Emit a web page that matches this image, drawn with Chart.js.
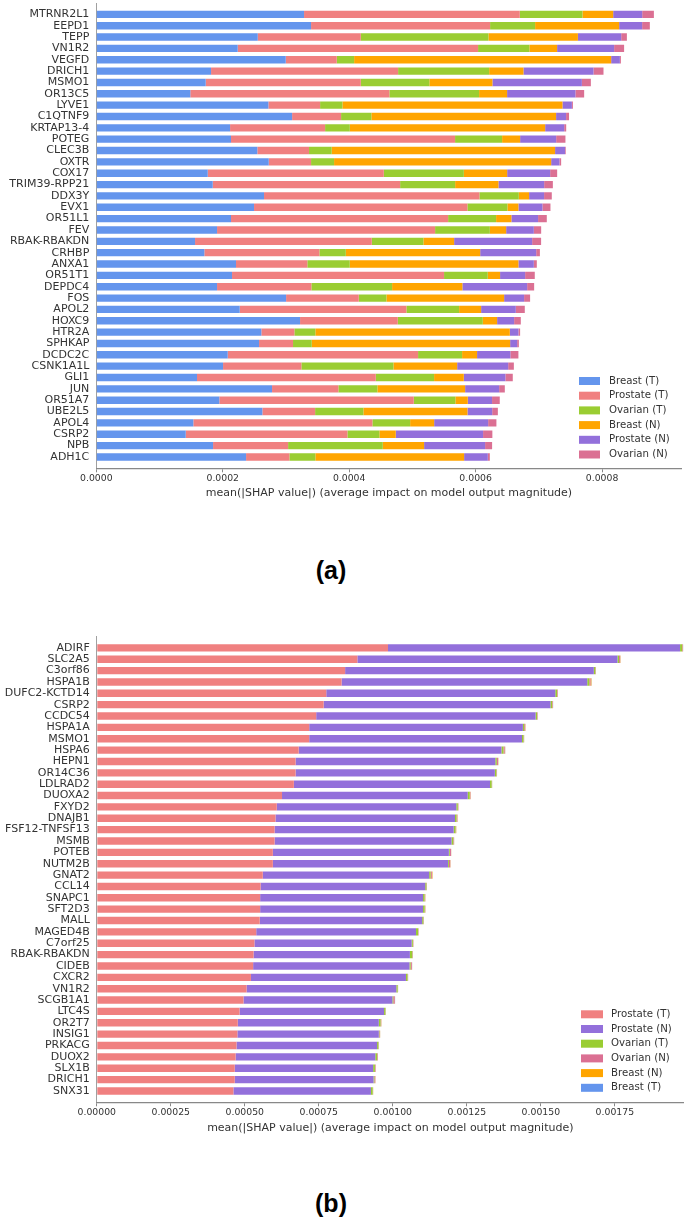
<!DOCTYPE html>
<html>
<head>
<meta charset="utf-8">
<script src="https://cdn.jsdelivr.net/npm/chart.js@4.4.0/dist/chart.umd.min.js"></script>
<style>
  body { margin: 0; background: #fff; width: 685px; height: 1220px; position: relative; overflow: hidden; }
  canvas { position: absolute; left: 0; }
  #chartA { top: 0; }
  #chartB { top: 630px; }
  .tag { position: absolute; left: 0; width: 662px; text-align: center; font: bold 25px 'Liberation Sans', Arial, sans-serif; line-height: 30px; color: #000; }
</style>
</head>
<body>
<canvas id="chartA" width="685" height="510"></canvas>
<div class="tag" style="top:555px">(a)</div>
<canvas id="chartB" width="685" height="520"></canvas>
<div class="tag" style="top:1188px">(b)</div>
<script>
// panel (a)
const genesA = ['MTRNR2L1', 'EEPD1', 'TEPP', 'VN1R2', 'VEGFD', 'DRICH1', 'MSMO1', 'OR13C5', 'LYVE1', 'C1QTNF9',
	'KRTAP13-4', 'POTEG', 'CLEC3B', 'OXTR', 'COX17', 'TRIM39-RPP21', 'DDX3Y', 'EVX1', 'OR51L1', 'FEV',
	'RBAK-RBAKDN', 'CRHBP', 'ANXA1', 'OR51T1', 'DEPDC4', 'FOS', 'APOL2', 'HOXC9', 'HTR2A', 'SPHKAP',
	'DCDC2C', 'CSNK1A1L', 'GLI1', 'JUN', 'OR51A7', 'UBE2L5', 'APOL4', 'CSRP2', 'NPB', 'ADH1C'];
const breastT_A = [0.0003286, 0.0003397, 0.0002554, 0.0002237, 0.0002997, 0.0001815, 0.0001731, 0.0001487, 0.0002722, 0.0003097,
	0.0002116, 0.0002131, 0.0002547, 0.0002728, 0.0001763, 0.0001842, 0.0002653, 0.0002495, 0.0002131, 0.0001910,
	0.0001562, 0.0001709, 0.0002210, 0.0002147, 0.0001910, 0.0003002, 0.0002269, 0.0003223, 0.0002611, 0.0002574,
	0.0002079, 0.0002005, 0.0001593, 0.0002780, 0.0001946, 0.0002627, 0.0001535, 0.0001415, 0.0001847, 0.0002369];
const prostateT_A = [0.0003413, 0.0002832, 0.0001630, 0.0003802, 0.0000807, 0.0002959, 0.0002453, 0.0003149, 0.0000818, 0.0000775,
	0.0001503, 0.0003544, 0.0000818, 0.0000669, 0.0002785, 0.0002964, 0.0003407, 0.0003375, 0.0003434, 0.0003449,
	0.0002796, 0.0001820, 0.0001128, 0.0003354, 0.0001492, 0.0001150, 0.0002636, 0.0001546, 0.0000522, 0.0000538,
	0.0003011, 0.0001239, 0.0002828, 0.0001049, 0.0003076, 0.0000834, 0.0002832, 0.0002557, 0.0001187, 0.0000685];
const ovarianT_A = [0.0000991, 0.0000712, 0.0002019, 0.0000812, 0.0000274, 0.0001440, 0.0001085, 0.0001419, 0.0000353, 0.0000479,
	0.0000391, 0.0000744, 0.0000359, 0.0000364, 0.0001266, 0.0000870, 0.0000623, 0.0000633, 0.0000759, 0.0000866,
	0.0000816, 0.0000418, 0.0000671, 0.0000691, 0.0001277, 0.0000437, 0.0000834, 0.0001345, 0.0000332, 0.0000296,
	0.0000696, 0.0001456, 0.0000922, 0.0000617, 0.0000658, 0.0000764, 0.0000597, 0.0000506, 0.0001498, 0.0000411];
const breastN_A = [0.0000486, 0.0001329, 0.0001415, 0.0000438, 0.0004066, 0.0000543, 0.0000997, 0.0000443, 0.0003481, 0.0002922,
	0.0003090, 0.0000285, 0.0003533, 0.0003434, 0.0000685, 0.0000685, 0.0000163, 0.0000174, 0.0000242, 0.0000258,
	0.0000486, 0.0002125, 0.0002668, 0.0000195, 0.0001112, 0.0001862, 0.0000348, 0.0000226, 0.0003076, 0.0003138,
	0.0000237, 0.0001008, 0.0000470, 0.0001388, 0.0000196, 0.0001646, 0.0000380, 0.0000259, 0.0000653, 0.0002353];
const prostateN_A = [0.0000459, 0.0000364, 0.0000685, 0.0000902, 0.0000138, 0.0001108, 0.0001415, 0.0001081, 0.0000149, 0.0000158,
	0.0000301, 0.0000570, 0.0000158, 0.0000131, 0.0000680, 0.0000723, 0.0000237, 0.0000380, 0.0000422, 0.0000438,
	0.0001234, 0.0000886, 0.0000244, 0.0000396, 0.0001024, 0.0000316, 0.0000549, 0.0000269, 0.0000136, 0.0000111,
	0.0000527, 0.0000807, 0.0000658, 0.0000538, 0.0000384, 0.0000391, 0.0000854, 0.0001381, 0.0000965, 0.0000375];
const ovarianN_A = [0.0000185, 0.0000122, 0.0000090, 0.0000158, 0.0000016, 0.0000158, 0.0000142, 0.0000138, 0.0000016, 0.0000047,
	0.0000032, 0.0000147, 0.0000011, 0.0000027, 0.0000111, 0.0000138, 0.0000122, 0.0000127, 0.0000138, 0.0000116,
	0.0000142, 0.0000059, 0.0000047, 0.0000153, 0.0000111, 0.0000095, 0.0000142, 0.0000106, 0.0000027, 0.0000027,
	0.0000127, 0.0000090, 0.0000117, 0.0000090, 0.0000122, 0.0000090, 0.0000131, 0.0000147, 0.0000111, 0.0000032];
const ticksA = [0.0000, 0.0002, 0.0004, 0.0006, 0.0008];

// panel (b)
const genesB = ['ADIRF', 'SLC2A5', 'C3orf86', 'HSPA1B', 'DUFC2-KCTD14', 'CSRP2', 'CCDC54', 'HSPA1A', 'MSMO1', 'HSPA6',
	'HEPN1', 'OR14C36', 'LDLRAD2', 'DUOXA2', 'FXYD2', 'DNAJB1', 'FSF12-TNFSF13', 'MSMB', 'POTEB', 'NUTM2B',
	'GNAT2', 'CCL14', 'SNAPC1', 'SFT2D3', 'MALL', 'MAGED4B', 'C7orf25', 'RBAK-RBAKDN', 'CIDEB', 'CXCR2',
	'VN1R2', 'SCGB1A1', 'LTC4S', 'OR2T7', 'INSIG1', 'PRKACG', 'DUOX2', 'SLX1B', 'DRICH1', 'SNX31'];
const prostateT_B = [0.0009837, 0.0008802, 0.0008388, 0.0008269, 0.0007751, 0.0007663, 0.0007411, 0.0007175, 0.0007175, 0.0006820,
	0.0006716, 0.0006716, 0.0006657, 0.0006257, 0.0006080, 0.0006036, 0.0006006, 0.0006006, 0.0005947, 0.0005947,
	0.0005607, 0.0005533, 0.0005518, 0.0005518, 0.0005503, 0.0005385, 0.0005325, 0.0005296, 0.0005281, 0.0005207,
	0.0005059, 0.0004956, 0.0004822, 0.0004763, 0.0004749, 0.0004719, 0.0004689, 0.0004660, 0.0004660, 0.0004615];
const prostateN_B = [0.0009867, 0.0008787, 0.0008402, 0.0008299, 0.0007737, 0.0007663, 0.0007411, 0.0007219, 0.0007189, 0.0006849,
	0.0006746, 0.0006731, 0.0006627, 0.0006272, 0.0006065, 0.0006065, 0.0006050, 0.0005976, 0.0005947, 0.0005917,
	0.0005621, 0.0005562, 0.0005503, 0.0005503, 0.0005488, 0.0005399, 0.0005311, 0.0005281, 0.0005281, 0.0005237,
	0.0005059, 0.0005030, 0.0004882, 0.0004763, 0.0004778, 0.0004749, 0.0004719, 0.0004675, 0.0004689, 0.0004645];
const ovarianT_B = [0.0000070, 0.0000055, 0.0000050, 0.0000070, 0.0000060, 0.0000055, 0.0000050, 0.0000045, 0.0000050, 0.0000070,
	0.0000050, 0.0000050, 0.0000055, 0.0000070, 0.0000050, 0.0000050, 0.0000060, 0.0000060, 0.0000030, 0.0000030,
	0.0000050, 0.0000040, 0.0000050, 0.0000055, 0.0000040, 0.0000070, 0.0000040, 0.0000080, 0.0000040, 0.0000050,
	0.0000045, 0.0000030, 0.0000045, 0.0000060, 0.0000020, 0.0000045, 0.0000060, 0.0000060, 0.0000030, 0.0000060];
const ovarianN_B = [0.0000020, 0.0000035, 0.0000015, 0.0000040, 0.0000018, 0.0000020, 0.0000015, 0.0000030, 0.0000015, 0.0000040,
	0.0000040, 0.0000015, 0.0000010, 0.0000020, 0.0000015, 0.0000025, 0.0000018, 0.0000020, 0.0000040, 0.0000045,
	0.0000040, 0.0000012, 0.0000020, 0.0000018, 0.0000012, 0.0000012, 0.0000015, 0.0000015, 0.0000040, 0.0000015,
	0.0000010, 0.0000050, 0.0000010, 0.0000020, 0.0000020, 0.0000010, 0.0000020, 0.0000020, 0.0000030, 0.0000010];
const breastN_B = [0.0000010, 0.0000010, 0.0000006, 0.0000030, 0.0000008, 0.0000010, 0.0000006, 0.0000010, 0.0000006, 0.0000015,
	0.0000010, 0.0000006, 0.0000005, 0.0000010, 0.0000006, 0.0000010, 0.0000008, 0.0000008, 0.0000006, 0.0000008,
	0.0000020, 0.0000005, 0.0000008, 0.0000007, 0.0000005, 0.0000005, 0.0000005, 0.0000005, 0.0000008, 0.0000006,
	0.0000004, 0.0000008, 0.0000004, 0.0000007, 0.0000004, 0.0000004, 0.0000007, 0.0000007, 0.0000005, 0.0000005];
const breastT_B = [0.0000005, 0.0000004, 0.0000003, 0.0000008, 0.0000003, 0.0000004, 0.0000003, 0.0000004, 0.0000003, 0.0000005,
	0.0000004, 0.0000003, 0.0000003, 0.0000004, 0.0000003, 0.0000004, 0.0000003, 0.0000003, 0.0000003, 0.0000003,
	0.0000005, 0.0000002, 0.0000003, 0.0000003, 0.0000002, 0.0000002, 0.0000002, 0.0000002, 0.0000003, 0.0000003,
	0.0000002, 0.0000003, 0.0000002, 0.0000003, 0.0000002, 0.0000002, 0.0000003, 0.0000003, 0.0000002, 0.0000002];
const ticksB = [0.00000, 0.00025, 0.00050, 0.00075, 0.00100, 0.00125, 0.00150, 0.00175];

const colors = {
	breastT: '#6495ED',
	prostateT: '#F08080',
	ovarianT: '#9ACD32',
	breastN: '#FFA500',
	prostateN: '#9370DB',
	ovarianN: '#DB7093'
};

Chart.defaults.font.family = "'DejaVu Sans'";
Chart.defaults.color = '#333333';

// legend drawn inside the plot, bottom right, like matplotlib
const boxLegend = {
	id: 'boxLegend',
	afterDraw(chart, args, o) {
		const ctx = chart.ctx;
		ctx.save();
		ctx.font = o.size + "px 'DejaVu Sans'";
		ctx.textBaseline = 'middle';
		ctx.textAlign = 'left';
		chart.data.datasets.forEach((ds, i) => {
			const y = o.top + i * o.gap;
			ctx.fillStyle = ds.backgroundColor;
			ctx.fillRect(o.x, y - o.boxH / 2, o.boxW, o.boxH);
			ctx.fillStyle = '#333333';
			ctx.fillText(ds.label, o.textX, y);
		});
		ctx.restore();
	}
};

// blank label at each end gives the one-row margin above and below the bars
const pad = arr => [null, ...arr, null];

function makeChart(id, genes, series, ticks, digits, box, legend) {
	const ctx = document.getElementById(id).getContext('2d');
	return new Chart(ctx, {
		type: 'bar',
		plugins: [boxLegend],
		data: {
			labels: ['', ...genes, ''],
			datasets: series.map(s => ({
				label: s.label,
				data: pad(s.data),
				backgroundColor: s.color,
				borderWidth: 0,
				barPercentage: 0.65,
				categoryPercentage: 1
			}))
		},
		options: {
			indexAxis: 'y',
			responsive: false,
			animation: false,
			layout: { padding: { top: box.top, right: 685 - box.right, left: 0, bottom: 0 } },
			plugins: {
				legend: { display: false },
				tooltip: { enabled: false },
				boxLegend: legend
			},
			scales: {
				y: {
					stacked: true,
					offset: false,
					grid: { display: false, drawTicks: false },
					border: { display: true, color: '#a0a0a0', width: 1 },
					ticks: { autoSkip: false, padding: 7, color: '#333333', font: { size: 11 } },
					afterFit: scale => {
						scale.width = box.left;
						scale.paddingTop = 0;
						scale.paddingBottom = 0;
					}
				},
				x: {
					stacked: true,
					min: 0,
					max: box.xmax,
					grid: { display: true, drawOnChartArea: false, drawTicks: true, tickLength: 4, color: '#888888' },
					border: { display: true, color: '#888888', width: 1.3 },
					afterBuildTicks: scale => { scale.ticks = ticks.map(v => ({ value: v })); },
					ticks: {
						padding: 1,
						color: '#333333',
						font: { size: 9.3 },
						maxRotation: 0,
						callback: v => v.toFixed(digits)
					},
					title: {
						display: true,
						text: 'mean(|SHAP value|) (average impact on model output magnitude)',
						color: '#333333',
						font: { size: 11 },
						padding: { top: 0, bottom: box.titlePad }
					},
					afterFit: scale => {
						scale.height = box.height - box.bottom;
						scale.paddingLeft = 0;
						scale.paddingRight = 0;
					}
				}
			}
		}
	});
}

makeChart('chartA', genesA, [
	{ label: 'Breast (T)', data: breastT_A, color: colors.breastT },
	{ label: 'Prostate (T)', data: prostateT_A, color: colors.prostateT },
	{ label: 'Ovarian (T)', data: ovarianT_A, color: colors.ovarianT },
	{ label: 'Breast (N)', data: breastN_A, color: colors.breastN },
	{ label: 'Prostate (N)', data: prostateN_A, color: colors.prostateN },
	{ label: 'Ovarian (N)', data: ovarianN_A, color: colors.ovarianN }
], ticksA, 4,
	{ left: 96.3, right: 681.7, top: 3, bottom: 468.3, height: 510, xmax: 0.000926, titlePad: 10.7 },
	{ x: 579, textX: 609, top: 381, gap: 14.7, boxW: 21, boxH: 8, size: 10.2 });

makeChart('chartB', genesB, [
	{ label: 'Prostate (T)', data: prostateT_B, color: colors.prostateT },
	{ label: 'Prostate (N)', data: prostateN_B, color: colors.prostateN },
	{ label: 'Ovarian (T)', data: ovarianT_B, color: colors.ovarianT },
	{ label: 'Ovarian (N)', data: ovarianN_B, color: colors.ovarianN },
	{ label: 'Breast (N)', data: breastN_B, color: colors.breastN },
	{ label: 'Breast (T)', data: breastT_B, color: colors.breastT }
], ticksB, 5,
	{ left: 96.8, right: 683.8, top: 6.5, bottom: 472.3, height: 520, xmax: 0.001983, titlePad: 15.4 },
	{ x: 581, textX: 611, top: 384.3, gap: 14.7, boxW: 22, boxH: 8, size: 10.2 });
</script>
</body>
</html>
